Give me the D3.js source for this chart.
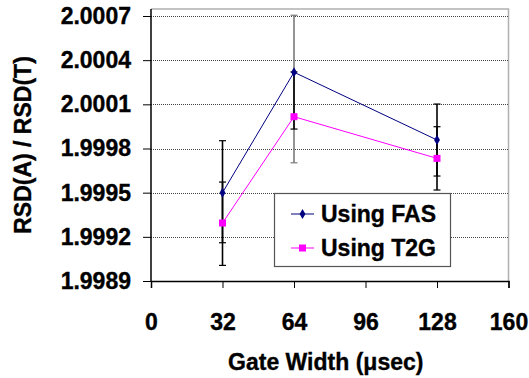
<!DOCTYPE html>
<html>
<head>
<meta charset="utf-8">
<script src="https://cdn.jsdelivr.net/npm/d3@7"></script>
<style>
  body { margin: 0; background: #fff; }
  text { font-family: "Liberation Sans", Arial, sans-serif; font-weight: bold; fill: #000; stroke: #000; stroke-width: 0.35px; }
</style>
</head>
<body>
<div id="chart"></div>
<script>
// data
const gateWidth = [32, 64, 128];
const fasValues = [1.9995, 2.000318, 1.999858];
const t2gValues = [1.999294, 2.000016, 1.999733];
// long error bars
const errLongLow = [1.999006, 1.999703, 1.999518];
const errLongHigh = [1.999853, 2.000705, 2.000102];
// short error bars
const errShortLow = [1.99916, 1.999932, 1.999613];
const errShortHigh = [1.999572, 2.00032, 1.999948];
const yTicks = [1.9989, 1.9992, 1.9995, 1.9998, 2.0001, 2.0004, 2.0007];
const xTicks = [0, 32, 64, 96, 128, 160];
const seriesNames = ["Using FAS", "Using T2G"];

const width = 529, height = 378;
const plot = { left: 151, right: 508.5, top: 16, bottom: 281, frameTop: 9 };

const svg = d3.select("#chart").append("svg")
  .attr("width", width)
  .attr("height", height);

const x = d3.scaleLinear().domain([0, 160]).range([plot.left, plot.right]);
const y = d3.scaleLinear().domain([1.9989, 2.0007]).range([plot.bottom, plot.top]);

// plot frame (top and right, grey)
svg.append("path")
  .attr("d", `M${plot.left},${plot.frameTop}H${plot.right}V${plot.bottom}`)
  .attr("fill", "none")
  .attr("stroke", "#b0b0b0")
  .attr("stroke-width", 1.5);

// dotted gridlines
svg.append("g")
  .selectAll("line")
  .data(yTicks.slice(1))
  .enter().append("line")
  .attr("x1", plot.left)
  .attr("x2", plot.right)
  .attr("y1", d => Math.round(y(d)) + 0.5)
  .attr("y2", d => Math.round(y(d)) + 0.5)
  .attr("stroke", "#444")
  .attr("stroke-width", 1)
  .attr("stroke-dasharray", "1,1");

// y axis
const yAxis = svg.append("g")
  .attr("transform", `translate(${plot.left},0)`)
  .call(d3.axisLeft(y).tickValues(yTicks).tickFormat(d3.format(".4f")).tickSizeOuter(0).tickSize(8).tickPadding(12));
yAxis.select(".domain").attr("d", `M0,${plot.frameTop}V${plot.bottom}`).attr("stroke", "#000").attr("stroke-width", 1.5);
yAxis.selectAll(".tick line").attr("stroke", "#000");
yAxis.selectAll("text").style("font-size", "23px").attr("fill", "#000");

// x axis
const xAxis = svg.append("g")
  .attr("transform", `translate(0,${plot.bottom})`)
  .call(d3.axisBottom(x).tickValues(xTicks).tickSizeOuter(0).tickSize(7).tickPadding(26));
xAxis.select(".domain").attr("stroke", "#000").attr("stroke-width", 1.5);
xAxis.selectAll(".tick line").attr("stroke", "#000");
xAxis.selectAll("text").style("font-size", "23px").attr("fill", "#000");

// axis titles
svg.append("text")
  .attr("x", (plot.left + plot.right) / 2 - 4)
  .attr("y", 370)
  .attr("text-anchor", "middle")
  .style("font-size", "23px")
  .text("Gate Width (μsec)");

svg.append("text")
  .attr("transform", `translate(31,${(plot.frameTop + plot.bottom) / 2}) rotate(-90)`)
  .attr("text-anchor", "middle")
  .style("font-size", "23px")
  .text("RSD(A) / RSD(T)");

// error bars
function drawErrors(lows, highs, colorFn, w) {
  const g = svg.append("g");
  gateWidth.forEach((gw, i) => {
    const cx = x(gw), c = colorFn(i);
    g.append("line").attr("x1", cx).attr("x2", cx)
      .attr("y1", y(lows[i])).attr("y2", y(highs[i]))
      .attr("stroke", c).attr("stroke-width", w);
    [lows[i], highs[i]].forEach(v => {
      g.append("line").attr("x1", cx - 3.5).attr("x2", cx + 3.5)
        .attr("y1", y(v)).attr("y2", y(v))
        .attr("stroke", c).attr("stroke-width", 1.2);
    });
  });
}
drawErrors(errLongLow, errLongHigh, i => i === 1 ? "#7a7a7a" : "#000", 1.6);
drawErrors(errShortLow, errShortHigh, () => "#000", 1.6);

// series lines
const line = d3.line().x((d, i) => x(gateWidth[i])).y(d => y(d));
svg.append("path").datum(fasValues).attr("d", line)
  .attr("fill", "none").attr("stroke", "#000080").attr("stroke-width", 1);
svg.append("path").datum(t2gValues).attr("d", line)
  .attr("fill", "none").attr("stroke", "#ff00ff").attr("stroke-width", 1);

// markers
const diamond = d3.symbol().type(d3.symbolDiamond).size(30);
svg.append("g").selectAll("path")
  .data(fasValues).enter().append("path")
  .attr("d", diamond)
  .attr("transform", (d, i) => `translate(${x(gateWidth[i])},${y(d)})`)
  .attr("fill", "#000080");
svg.append("g").selectAll("rect")
  .data(t2gValues).enter().append("rect")
  .attr("x", (d, i) => x(gateWidth[i]) - 3.5)
  .attr("y", d => y(d) - 3.5)
  .attr("width", 7).attr("height", 7)
  .attr("fill", "#ff00ff");

// legend
const legend = svg.append("g").attr("transform", "translate(274,193)");
legend.append("rect")
  .attr("x", 0.5).attr("y", 0.5)
  .attr("width", 176).attr("height", 73)
  .attr("fill", "#fff")
  .attr("stroke", "#555")
  .attr("stroke-width", 1.2);
const legendColors = ["#000080", "#ff00ff"];
seriesNames.forEach((name, i) => {
  const ly = 21 + i * 34;
  legend.append("line")
    .attr("x1", 17).attr("x2", 40)
    .attr("y1", ly).attr("y2", ly)
    .attr("stroke", legendColors[i]).attr("stroke-width", 1);
  if (i === 0) {
    legend.append("path").attr("d", diamond)
      .attr("transform", `translate(28.5,${ly})`)
      .attr("fill", legendColors[i]);
  } else {
    legend.append("rect")
      .attr("x", 25).attr("y", ly - 3.5)
      .attr("width", 7).attr("height", 7)
      .attr("fill", legendColors[i]);
  }
  legend.append("text")
    .attr("x", 47).attr("y", ly + 8)
    .style("font-size", "23px")
    .text(name);
});
</script>
</body>
</html>
